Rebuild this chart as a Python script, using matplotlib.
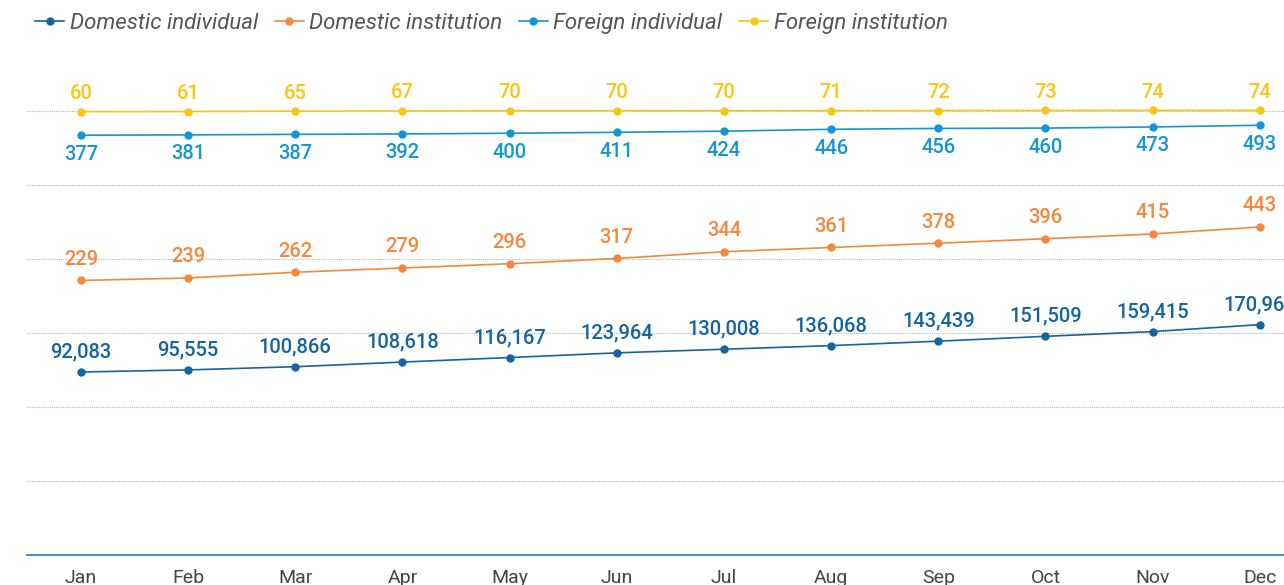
import matplotlib.pyplot as plt
from matplotlib.lines import Line2D

months = ['Jan', 'Feb', 'Mar', 'Apr', 'May', 'Jun', 'Jul', 'Aug', 'Sep', 'Oct', 'Nov', 'Dec']
domestic_individual = [92083, 95555, 100866, 108618, 116167, 123964, 130008, 136068, 143439, 151509, 159415, 170963]
domestic_institution = [229, 239, 262, 279, 296, 317, 344, 361, 378, 396, 415, 443]
foreign_individual = [377, 381, 387, 392, 400, 411, 424, 446, 456, 460, 473, 493]
foreign_institution = [60, 61, 65, 67, 70, 70, 70, 71, 72, 73, 74, 74]

plt.rcParams['font.family'] = ['Roboto', 'DejaVu Sans']

fig = plt.figure(figsize=(12.84, 5.85), dpi=100)
ax = fig.add_axes([0.0213, 0.0513, 1.0016, 0.759])
x = list(range(len(months)))

# base axis: gridlines + month labels
ax.set_xlim(-0.5, 11.5)
ax.set_ylim(0, 6)
ax.set_yticks(range(7))
ax.set_yticklabels([])
ax.grid(axis='y', color='#b5b5b5', linestyle=(0, (1, 1)), linewidth=0.8)
ax.set_xticks(x)
ax.set_xticklabels(months, fontsize=14, color='#444444')
ax.tick_params(axis='x', length=0, pad=10)
ax.tick_params(axis='y', length=0)
for s in ['top', 'right', 'left']:
    ax.spines[s].set_visible(False)
ax.spines['bottom'].set_color('#2a86c8')
ax.spines['bottom'].set_linewidth(1.3)

# each series sits on its own hidden scale
series = [
    ('Domestic individual', domestic_individual, '#14649f', (-212900, 527100), 20),
    ('Domestic institution', domestic_institution, '#f5883c', (-869, 907), 21),
    ('Foreign individual', foreign_individual, '#1396d6', (-4504, 659), -19),
    ('Foreign institution', foreign_institution, '#fbc611', (-5000, 67), 18),
]

handles = []
for name, vals, color, lim, off in series:
    tw = ax.twinx()
    tw.set_ylim(*lim)
    tw.axis('off')
    line, = tw.plot(x, vals, color=color, linewidth=1.2, marker='o', markersize=5,
                    clip_on=False, label=name)
    for xi, v in zip(x, vals):
        tw.annotate(f'{v:,}', (xi, v), xytext=(0, off), textcoords='offset pixels',
                    ha='center', va='center', fontsize=14.5, color=color,
                    fontweight='medium', annotation_clip=False)
    handles.append(Line2D([], [], color=color, linewidth=1.2, marker='o', markersize=5))

fig.legend(handles, [s[0] for s in series], loc='center left', bbox_to_anchor=(0.012, 0.96),
           ncol=4, frameon=False, handlelength=1.3, handletextpad=0.25, columnspacing=0.75,
           prop={'style': 'italic', 'size': 16}, labelcolor='#555555')

fig.savefig('out.png', dpi=100)
